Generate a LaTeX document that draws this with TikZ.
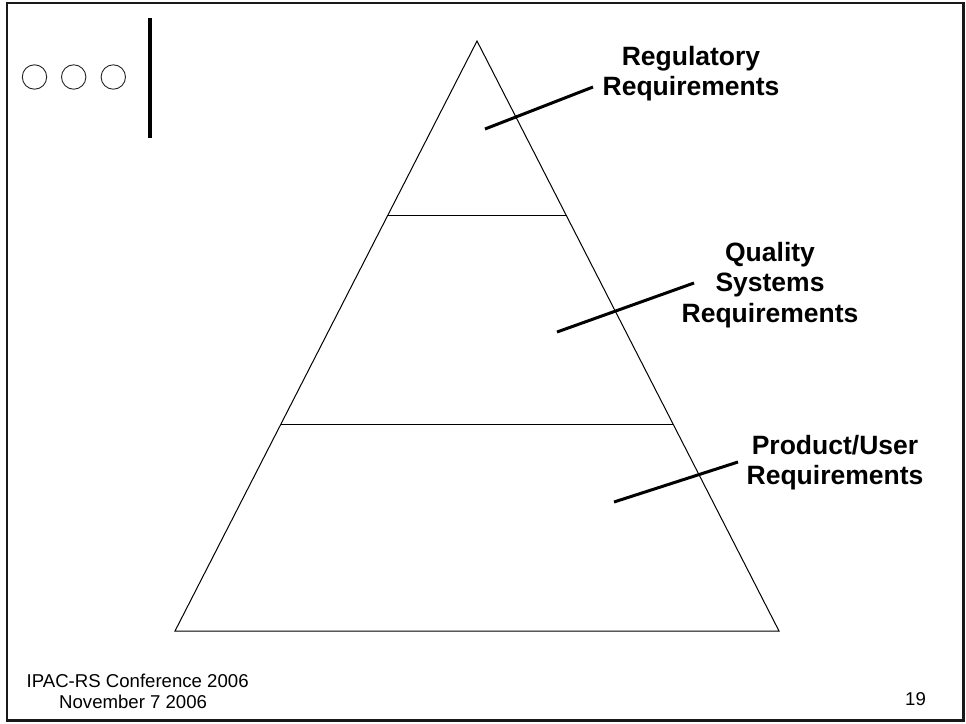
\documentclass[tikz,border=0pt]{standalone}
\usepackage{fontspec}
\setmainfont{Liberation Sans}
\usetikzlibrary{calc}
\begin{document}
\begin{tikzpicture}[x=1pt,y=-1pt,
  frame/.style={draw=black!90,line width=2.8pt},
  dot/.style={draw=black!85,line width=0.9pt},
  edge/.style={draw=black,line width=1pt},
  leader/.style={draw=black,line width=3pt},
  lbl/.style={font=\fontsize{26.5}{30.5}\selectfont\bfseries,align=center,inner sep=0pt,anchor=north},
  foot/.style={font=\fontsize{18.6}{22}\selectfont,inner sep=0pt,anchor=base west}]
\useasboundingbox (0,0) rectangle (966,723);
\draw[frame] (7,3) rectangle (963.5,720.5);
% logo
\draw[dot] (34.5,77) circle (12.2);
\draw[dot] (73.7,77) circle (12.2);
\draw[dot] (113.3,77) circle (12.2);
\draw[line width=3.5pt] (150,18) -- (150,138);
% pyramid
\coordinate (apex) at (477,41);
\coordinate (bl) at (175,631);
\coordinate (br) at (779,631);
\draw[edge] (apex) -- (bl) -- (br) -- cycle;
\draw[edge] ($(apex)!0.2966!(bl)$) -- ($(apex)!0.2966!(br)$);
\draw[edge] ($(apex)!0.6492!(bl)$) -- ($(apex)!0.6492!(br)$);
% labels
\node[lbl] (reg) at (691,46) {Regulatory\\Requirements};
\node[lbl] (qual) at (770,242) {Quality\\Systems\\Requirements};
\node[lbl] (prod) at (835,435) {Product/User\\Requirements};
\coordinate (regA) at (485,129);
\coordinate (regB) at (593,87);
\coordinate (qualA) at (557,332);
\coordinate (qualB) at (694,283);
\coordinate (prodA) at (614,502);
\coordinate (prodB) at (738,462);
\draw[leader] (regA) -- (regB);
\draw[leader] (qualA) -- (qualB);
\draw[leader] (prodA) -- (prodB);
% footer
\node[foot] (conf) at (26.5,687) {IPAC-RS Conference 2006};
\node[foot] (date) at (59,708) {November 7 2006};
\node[foot] (page) at (905,705) {19};
\end{tikzpicture}
\end{document}
